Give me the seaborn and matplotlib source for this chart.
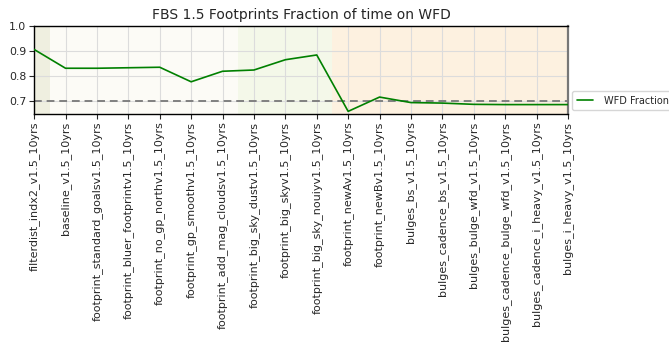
import matplotlib
matplotlib.use("Agg")
import matplotlib.pyplot as plt
import seaborn as sns
import pandas as pd

runs = [
    "filterdist_indx2_v1.5_10yrs",
    "baseline_v1.5_10yrs",
    "footprint_standard_goalsv1.5_10yrs",
    "footprint_bluer_footprintv1.5_10yrs",
    "footprint_no_gp_northv1.5_10yrs",
    "footprint_gp_smoothv1.5_10yrs",
    "footprint_add_mag_cloudsv1.5_10yrs",
    "footprint_big_sky_dustv1.5_10yrs",
    "footprint_big_skyv1.5_10yrs",
    "footprint_big_sky_nouiyv1.5_10yrs",
    "footprint_newAv1.5_10yrs",
    "footprint_newBv1.5_10yrs",
    "bulges_bs_v1.5_10yrs",
    "bulges_cadence_bs_v1.5_10yrs",
    "bulges_bulge_wfd_v1.5_10yrs",
    "bulges_cadence_bulge_wfd_v1.5_10yrs",
    "bulges_cadence_i_heavy_v1.5_10yrs",
    "bulges_i_heavy_v1.5_10yrs",
]
wfd_fraction = [0.907, 0.832, 0.832, 0.834, 0.836, 0.778, 0.820, 0.825, 0.866,
                0.885, 0.660, 0.717, 0.695, 0.693, 0.688, 0.687, 0.687, 0.687]
wfd_goal = 0.70

# run families shaded behind the curve: (first index, last index, colour)
families = [
    (0, 0, "#e2e2c8"),
    (1, 6, "#fbf8ef"),
    (7, 9, "#ecf3d8"),
    (10, 17, "#fde6c8"),
]

df = pd.DataFrame({"idx": range(len(runs)), "run": runs, "WFD Fraction": wfd_fraction})

sns.set_style("whitegrid")
plt.rcParams["font.family"] = ["DejaVu Sans"]

fig = plt.figure(figsize=(6.69, 3.44), dpi=100)
ax = fig.add_axes([0.051, 0.669, 0.798, 0.255])

for lo, hi, col in families:
    ax.axvspan(max(lo - 0.5, 0), min(hi + 0.5, len(runs) - 1), color=col, alpha=0.55, lw=0, zorder=0)

sns.lineplot(data=df, x="idx", y="WFD Fraction", color="green", lw=1.2,
             label="WFD Fraction", ax=ax, zorder=3)
ax.axhline(wfd_goal, color="gray", ls="--", lw=1.4, dashes=(4, 2.5), zorder=2)

ax.set_xlim(0, len(runs) - 1)
ax.set_ylim(0.65, 1.0)
ax.set_yticks([0.7, 0.8, 0.9, 1.0])
ax.set_xticks(df["idx"])
ax.set_xticklabels(runs, rotation=90, fontsize=8.0)
ax.tick_params(axis="y", labelsize=7.8, length=3.5, width=0.8, left=True, pad=2)
ax.tick_params(axis="x", length=3.5, width=0.8, bottom=True, pad=2)
ax.set_xlabel("")
ax.set_ylabel("")
ax.set_title("FBS 1.5 Footprints Fraction of time on WFD", fontsize=10, pad=5)
ax.grid(True, color="#dcdcdc", lw=0.8)
ax.set_axisbelow(True)
for s in ax.spines.values():
    s.set_color("black")
    s.set_linewidth(1.0)
ax.spines["right"].set_color("#777777")
ax.spines["right"].set_linewidth(1.6)

ax.legend(loc="center left", bbox_to_anchor=(1.003, 0.15), fontsize=7,
          frameon=True, handlelength=1.7, handletextpad=1.1, borderpad=0.45,
          borderaxespad=0.3)

fig.savefig("out.png", dpi=100)
